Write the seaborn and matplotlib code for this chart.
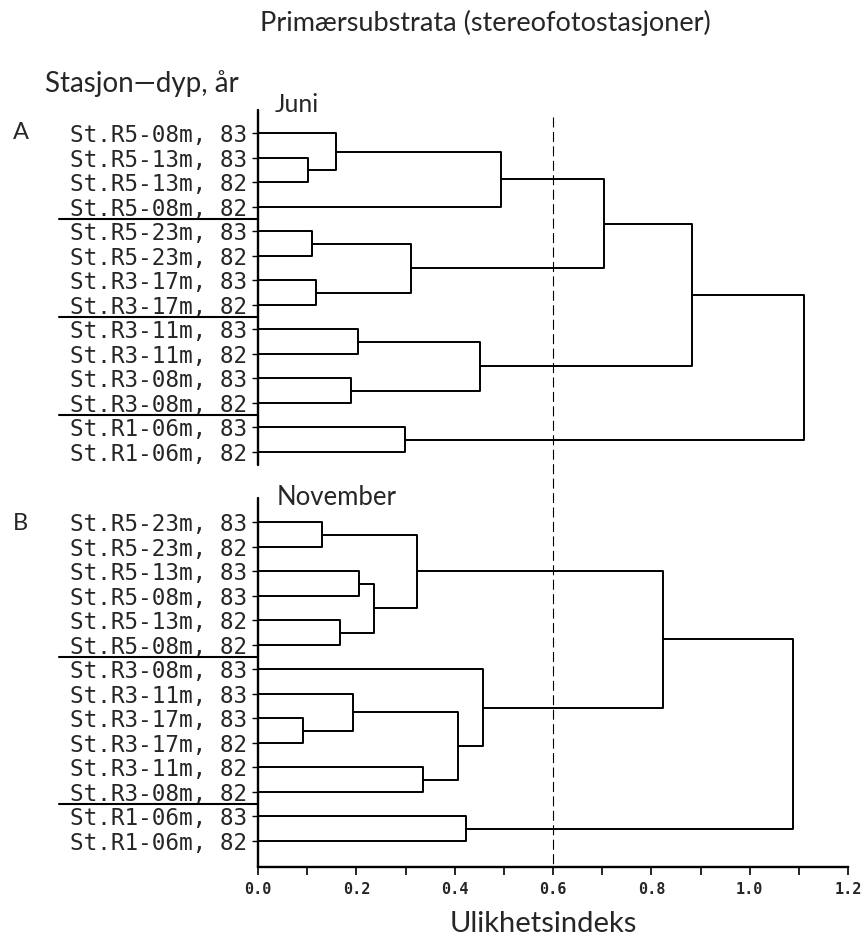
import numpy as np
import pandas as pd
import matplotlib
matplotlib.use("Agg")
import matplotlib.pyplot as plt
import seaborn as sns

# leaf labels (top to bottom) and merges (left, right, dissimilarity), scipy-style ids
juni_labels = ["St.R5-08m, 83", "St.R5-13m, 83", "St.R5-13m, 82", "St.R5-08m, 82",
               "St.R5-23m, 83", "St.R5-23m, 82", "St.R3-17m, 83", "St.R3-17m, 82",
               "St.R3-11m, 83", "St.R3-11m, 82", "St.R3-08m, 83", "St.R3-08m, 82",
               "St.R1-06m, 83", "St.R1-06m, 82"]
juni_merges = [(1, 2, 0.102), (0, 14, 0.158), (15, 3, 0.494),
               (4, 5, 0.110), (6, 7, 0.118), (17, 18, 0.311),
               (16, 19, 0.703), (8, 9, 0.203), (10, 11, 0.189),
               (21, 22, 0.451), (20, 23, 0.882), (12, 13, 0.299),
               (24, 25, 1.110)]
juni_groups = [4, 4, 4, 2]

nov_labels = ["St.R5-23m, 83", "St.R5-23m, 82", "St.R5-13m, 83", "St.R5-08m, 83",
              "St.R5-13m, 82", "St.R5-08m, 82", "St.R3-08m, 83", "St.R3-11m, 83",
              "St.R3-17m, 83", "St.R3-17m, 82", "St.R3-11m, 82", "St.R3-08m, 82",
              "St.R1-06m, 83", "St.R1-06m, 82"]
nov_merges = [(0, 1, 0.131), (2, 3, 0.205), (4, 5, 0.167),
              (15, 16, 0.235), (14, 17, 0.324), (8, 9, 0.092),
              (7, 19, 0.194), (10, 11, 0.336), (20, 21, 0.407),
              (6, 22, 0.458), (18, 23, 0.824), (12, 13, 0.423),
              (24, 25, 1.089)]
nov_groups = [6, 6, 2]

x_ticks = [0.0, 0.2, 0.4, 0.6, 0.8, 1.0, 1.2]
x_ticklabels = ["0.0", "0.2", "0.4", "0.6", "0.8", "1.0", "1.2"]
cut_level = 0.6

W, H = 861, 938
nov_offset = 15.88


def dendro_frame(merges, n, offset, name):
    """turn merge list into U-shaped segments, one unit per merge"""
    pos = {i: offset + i for i in range(n)}
    hgt = {i: 0.0 for i in range(n)}
    rows = []
    for k, (a, b, h) in enumerate(merges):
        xs = [hgt[a], h, h, hgt[b]]
        ys = [pos[a], pos[a], pos[b], pos[b]]
        for x, y in zip(xs, ys):
            rows.append({"seg": f"{name}{k}", "x": x, "y": y})
        pos[n + k] = (pos[a] + pos[b]) / 2
        hgt[n + k] = h
    return pd.DataFrame(rows)


sns.set_style("ticks")
plt.rcParams["font.family"] = ["Lato", "DejaVu Sans"]

fig = plt.figure(figsize=(W / 100, H / 100), dpi=100)
ax = fig.add_axes([258 / W, 1 - 867 / H, 590 / W, 757 / H])

df = pd.concat([dendro_frame(juni_merges, len(juni_labels), 0, "A"),
                dendro_frame(nov_merges, len(nov_labels), nov_offset, "B")])
sns.lineplot(data=df, x="x", y="y", units="seg", estimator=None, sort=False,
             color="black", lw=1.4, ax=ax)

ax.set_xlim(0, 1.2)
ax.set_ylim(29.95, -0.95)

# separate vertical axis lines for the two panels
ax.plot([0, 0], [-0.95, 13.54], color="black", lw=1.7, clip_on=False)
ax.plot([0, 0], [14.89, 29.95], color="black", lw=1.7, clip_on=False)

# group separators reaching into the label area
for groups, off in [(juni_groups, 0), (nov_groups, nov_offset)]:
    edges = np.cumsum(groups)[:-1]
    for e in edges:
        ax.plot([-0.405, 0], [off + e - 0.5, off + e - 0.5], color="black",
                lw=1.5, clip_on=False)

ax.plot([cut_level, cut_level], [-0.67, 29.95], color="black", lw=0.8,
        dashes=(9, 4))

yt = list(np.arange(len(juni_labels))) + list(nov_offset + np.arange(len(nov_labels)))
ax.set_yticks(yt)
ax.set_yticklabels(juni_labels + nov_labels, family="DejaVu Sans Mono", fontsize=16.3)
ax.tick_params(axis="y", length=4.5, width=1, pad=3, color="black")

ax.set_xticks(x_ticks)
ax.set_xticklabels(x_ticklabels, family="DejaVu Sans Mono", fontweight="bold",
                   fontsize=11)
ax.set_xticks(np.arange(0.1, 1.2, 0.2), minor=True)
ax.tick_params(axis="x", which="both", length=6, width=1.2, pad=5, color="black")

for s in ["left", "top", "right"]:
    ax.spines[s].set_visible(False)
ax.spines["bottom"].set_linewidth(1.7)
ax.spines["bottom"].set_color("black")
ax.set_xlabel("")
ax.set_ylabel("")


def ftext(px, py, s, **kw):
    fig.text(px / W, 1 - py / H, s, va="baseline", **kw)


ftext(485, 31, "Primærsubstrata (stereofotostasjoner)", fontsize=19.5, ha="center")
ftext(45, 92, "Stasjon\u2014dyp, år", fontsize=20, ha="left")
ftext(275, 112, "Juni", fontsize=18, ha="left")
ftext(277, 505, "November", fontsize=18.5, ha="left")
ftext(13, 139, "A", fontsize=17, ha="left")
ftext(13, 530, "B", fontsize=17, ha="left")
ftext(543, 932, "Ulikhetsindeks", fontsize=21, ha="center")

fig.savefig("out.png", dpi=100, facecolor="white")
